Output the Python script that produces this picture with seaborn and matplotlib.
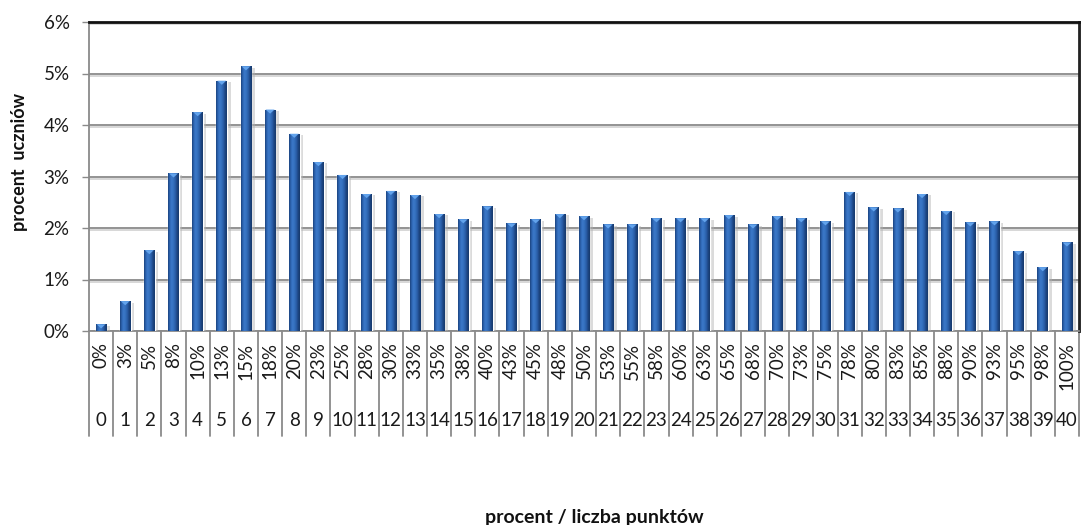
import numpy as np
import matplotlib
matplotlib.use("Agg")
import matplotlib.pyplot as plt
import matplotlib.patheffects as pe
from matplotlib.colors import LinearSegmentedColormap
from matplotlib.patches import Polygon
from matplotlib.transforms import blended_transform_factory
import seaborn as sns

# score in percent of maximum and raw points
pct_labels = ["0%", "3%", "5%", "8%", "10%", "13%", "15%", "18%", "20%", "23%",
              "25%", "28%", "30%", "33%", "35%", "38%", "40%", "43%", "45%", "48%",
              "50%", "53%", "55%", "58%", "60%", "63%", "65%", "68%", "70%", "73%",
              "75%", "78%", "80%", "83%", "85%", "88%", "90%", "93%", "95%", "98%",
              "100%"]
points = ["0", "1", "2", "3", "4", "5", "6", "7", "8", "9", "10", "11", "12", "13",
          "14", "15", "16", "17", "18", "19", "20", "21", "22", "23", "24", "25",
          "26", "27", "28", "29", "30", "31", "32", "33", "34", "35", "36", "37",
          "38", "39", "40"]
# share of students (%)
shares = [0.13, 0.58, 1.57, 3.06, 4.25, 4.86, 5.14, 4.30, 3.83, 3.28,
          3.03, 2.66, 2.72, 2.64, 2.27, 2.17, 2.42, 2.09, 2.17, 2.27,
          2.23, 2.07, 2.07, 2.19, 2.19, 2.19, 2.25, 2.07, 2.23, 2.19,
          2.13, 2.70, 2.40, 2.38, 2.66, 2.33, 2.11, 2.13, 1.55, 1.24,
          1.72]
y_ticks = [0, 1, 2, 3, 4, 5, 6]

sns.set_theme(style="white")
plt.rcParams["font.family"] = ["Lato", "DejaVu Sans"]

W, H = 1081, 525
fig = plt.figure(figsize=(W / 100, H / 100), dpi=100)
ax = fig.add_axes([89 / W, 1 - 331 / H, (1079 - 89) / W, 309 / H])

sns.barplot(x=points, y=shares, order=points, width=0.44, color="#2a5ea8",
            ax=ax, zorder=3, saturation=1)

TICK_FS = 13.5
ax.set_xlim(-0.5, len(points) - 0.5)
ax.set_ylim(0, 6)
ax.set_yticks(y_ticks)
ax.set_yticklabels([f"{v}%" for v in y_ticks], fontsize=TICK_FS, color="#1a1a1a")
ax.set_xticks(range(len(points)))
ax.set_xticklabels([""] * len(points))
ax.tick_params(axis="x", length=0)
ax.tick_params(axis="y", length=5, width=1, color="#8a8a8a", pad=9, left=True)
ax.set_xlabel("")
ax.set_ylabel("")

# gridlines with a faint shadow underneath
ax.yaxis.grid(True, color="#8a8a8a", lw=1.3)
ax.set_axisbelow(True)
for gl in ax.get_ygridlines():
    gl.set_path_effects([pe.SimpleLineShadow(offset=(0, -1.5), shadow_color="#d4d4d4",
                                             alpha=1), pe.Normal()])

for side in ("left", "bottom"):
    ax.spines[side].set_color("#8a8a8a")
    ax.spines[side].set_linewidth(1.3)
ax.spines["top"].set_color("#111111")
ax.spines["top"].set_linewidth(2)
ax.spines["right"].set_color("#222222")
ax.spines["right"].set_linewidth(2)
ax.spines["right"].set_path_effects([pe.SimpleLineShadow(offset=(1.5, 0),
                                                         shadow_color="#aaaaaa", alpha=1),
                                     pe.Normal()])

# bevelled bars: horizontal gradient clipped to each bar, lighter cap on top
bar_cmap = LinearSegmentedColormap.from_list(
    "bar", ["#1b437e", "#2e66b3", "#3c79c9", "#3470bd", "#2a5ea8", "#1d4683", "#173a6c"])
grad = np.linspace(0, 1, 64)[None, :]
for patch in list(ax.patches):
    x0, y0, w, h = patch.get_x(), patch.get_y(), patch.get_width(), patch.get_height()
    patch.set_path_effects([pe.SimplePatchShadow(offset=(2.5, -1), shadow_rgbFace="#b0b0b0",
                                                 alpha=0.45), pe.Normal()])
    im = ax.imshow(grad, cmap=bar_cmap, extent=[x0, x0 + w, y0, y0 + h],
                   aspect="auto", zorder=3.1, interpolation="bilinear")
    im.set_clip_path(patch)
    cap = Polygon([(x0 + w * 0.08, y0 + h), (x0 + w * 0.92, y0 + h),
                   (x0 + w / 2, y0 + h - 0.08)], closed=True,
                  facecolor="#62a3ec", edgecolor="none", zorder=3.2)
    ax.add_patch(cap)
ax.set_xlim(-0.5, len(points) - 0.5)
ax.set_ylim(0, 6)

# two-row category axis: percent (rotated) and points, with separators
tr = blended_transform_factory(ax.transData, ax.transAxes)
for i, (p, n) in enumerate(zip(pct_labels, points)):
    ax.text(i, -0.037, p, transform=tr, rotation=90, ha="center", va="top",
            fontsize=TICK_FS, color="#1a1a1a")
    ax.text(i, -0.291, n, transform=tr, ha="center", va="center",
            fontsize=TICK_FS, color="#1a1a1a")
for b in range(len(points) + 1):
    ax.plot([b - 0.5, b - 0.5], [0, -0.34], transform=tr, color="#8a8a8a",
            lw=1.3, clip_on=False, zorder=1)

fig.text(20 / W, 1 - 162 / H, "procent  uczniów", rotation=90, ha="center",
         va="center", fontsize=13, fontweight="bold", color="#111111")
fig.text(594 / W, 1 - 517 / H, "procent / liczba punktów", ha="center",
         va="center", fontsize=14, fontweight="bold", color="#111111")

fig.savefig("out.png", dpi=100)
